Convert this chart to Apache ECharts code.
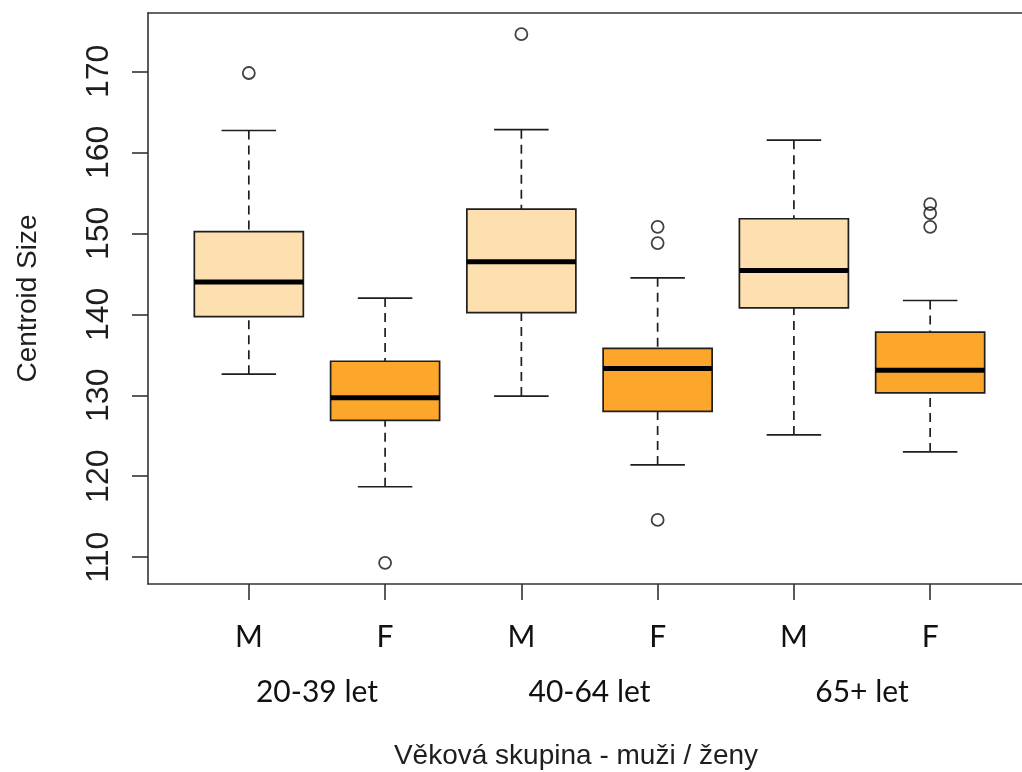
<!DOCTYPE html>
<html>
<head>
<meta charset="utf-8">
<script src="https://cdn.jsdelivr.net/npm/echarts@6/dist/echarts.min.js"></script>
<style>
html,body{margin:0;padding:0;background:#fff;overflow:hidden;}
#chart{width:1022px;height:772px;}
</style>
</head>
<body>
<div id="chart"></div>
<script>
// ---- data ----
const categories = ['M', 'F', 'M', 'F', 'M', 'F'];
const groups = ['20-39 let', '40-64 let', '65+ let'];
const whiskerLow = [132.6, 118.7, 129.9, 121.4, 125.1, 123.0];
const q1 = [139.7, 126.9, 140.2, 128.0, 140.8, 130.3];
const median = [144.0, 129.7, 146.5, 133.3, 145.4, 133.1];
const q3 = [150.2, 134.2, 153.0, 135.8, 151.8, 137.8];
const whiskerHigh = [162.7, 142.0, 162.8, 144.5, 161.5, 141.7];
const outliers = [[169.8], [109.3], [174.6], [150.8, 148.8, 114.6], [], [153.6, 152.5, 150.8]];
const yTicks = [110, 120, 130, 140, 150, 160, 170];
const xTitle = 'Věková skupina - muži / ženy';
const yTitle = 'Centroid Size';

// ---- derived ----
const allVals = [].concat(whiskerLow, whiskerHigh, ...outliers);
const dMin = Math.min(...allVals), dMax = Math.max(...allVals);
const pad = (dMax - dMin) * 0.04;
const yMin = dMin - pad, yMax = dMax + pad;

const fillBySex = { M: '#FEDFB0', F: '#FCA62B' };
const boxData = categories.map((c, i) => [i, whiskerLow[i], q1[i], median[i], q3[i], whiskerHigh[i]]);
const outlierData = [];
outliers.forEach((arr, i) => arr.forEach(v => outlierData.push([i, v])));

const ink = '#1e1e1e';
const frame = { color: '#333', width: 1.6 };
const chart = echarts.init(document.getElementById('chart'), null, { renderer: 'canvas' });

function renderBox(params, api) {
  const i = api.value(0);
  const band = api.size([1, 0])[0];
  const hw = band * 0.4;
  const capHw = hw * 0.5;
  const pLow = api.coord([i, api.value(1)]);
  const pQ1 = api.coord([i, api.value(2)]);
  const pMed = api.coord([i, api.value(3)]);
  const pQ3 = api.coord([i, api.value(4)]);
  const pHigh = api.coord([i, api.value(5)]);
  const x = pMed[0];
  const dash = { stroke: ink, lineWidth: 1.7, lineDash: [9, 6] };
  const solid = { stroke: ink, lineWidth: 1.7 };
  return {
    type: 'group',
    children: [
      { type: 'line', shape: { x1: x, y1: pLow[1], x2: x, y2: pQ1[1] }, style: dash },
      { type: 'line', shape: { x1: x, y1: pHigh[1], x2: x, y2: pQ3[1] }, style: dash },
      { type: 'line', shape: { x1: x - capHw, y1: pLow[1], x2: x + capHw, y2: pLow[1] }, style: solid },
      { type: 'line', shape: { x1: x - capHw, y1: pHigh[1], x2: x + capHw, y2: pHigh[1] }, style: solid },
      { type: 'rect', shape: { x: x - hw, y: pQ3[1], width: hw * 2, height: pQ1[1] - pQ3[1] },
        style: { fill: fillBySex[categories[i]], stroke: ink, lineWidth: 1.7 } },
      { type: 'line', shape: { x1: x - hw, y1: pMed[1], x2: x + hw, y2: pMed[1] },
        style: { stroke: '#000', lineWidth: 5 } }
    ]
  };
}

const option = {
  animation: false,
  backgroundColor: '#fff',
  title: {
    text: xTitle,
    left: 571, top: 737, textAlign: 'center',
    textStyle: { fontFamily: 'Liberation Sans', fontSize: 28, fontWeight: 'normal', color: ink }
  },
  grid: [
    { left: 148, top: 13, width: 883, height: 571, show: false, outerBoundsMode: 'none', containLabel: false },
    { left: 180.7, top: 13, width: 817.6, height: 571, outerBoundsMode: 'none', containLabel: false }
  ],
  xAxis: [
    { type: 'value', gridIndex: 0, position: 'bottom', min: 0, max: 1,
      axisLine: { show: true, lineStyle: frame }, axisTick: { show: false }, axisLabel: { show: false }, splitLine: { show: false } },
    {
      type: 'category', gridIndex: 1, data: categories, position: 'bottom',
      axisLine: { show: false },
      axisTick: { show: true, alignWithLabel: true, length: 16, lineStyle: frame },
      axisLabel: { margin: 38, fontFamily: 'Lato', fontSize: 30, color: '#111' },
      splitLine: { show: false }
    },
    {
      type: 'category', gridIndex: 1, data: groups, position: 'bottom',
      axisLine: { show: false }, axisTick: { show: false },
      axisLabel: { margin: 93, fontFamily: 'Lato', fontSize: 30, color: '#111' },
      splitLine: { show: false }
    },
    { type: 'value', gridIndex: 0, position: 'top', min: 0, max: 1,
      axisLine: { show: true, lineStyle: frame }, axisTick: { show: false }, axisLabel: { show: false }, splitLine: { show: false } }
  ],
  yAxis: [
    {
      type: 'value', gridIndex: 0, min: yMin, max: yMax, position: 'left',
      name: yTitle, nameLocation: 'middle', nameRotate: 90, nameGap: 106,
      nameTextStyle: { fontFamily: 'Liberation Sans', fontSize: 28, color: ink },
      axisLine: { show: true, lineStyle: frame },
      axisTick: { show: true, length: 16, customValues: yTicks, lineStyle: frame },
      axisLabel: { rotate: 90, margin: 33, customValues: yTicks, fontFamily: 'Liberation Sans', fontSize: 32, color: ink },
      splitLine: { show: false }
    },
    { type: 'value', gridIndex: 1, min: yMin, max: yMax, show: false, splitLine: { show: false } }
  ],
  series: [
    {
      type: 'custom', xAxisIndex: 1, yAxisIndex: 1,
      data: boxData, renderItem: renderBox,
      encode: { x: 0, y: [1, 2, 3, 4, 5] }
    },
    {
      type: 'scatter', xAxisIndex: 1, yAxisIndex: 1,
      data: outlierData, symbol: 'circle', symbolSize: 12,
      itemStyle: { color: 'transparent', borderColor: '#111', borderWidth: 1.8 }
    }
  ]
};
chart.setOption(option);
</script>
</body>
</html>
